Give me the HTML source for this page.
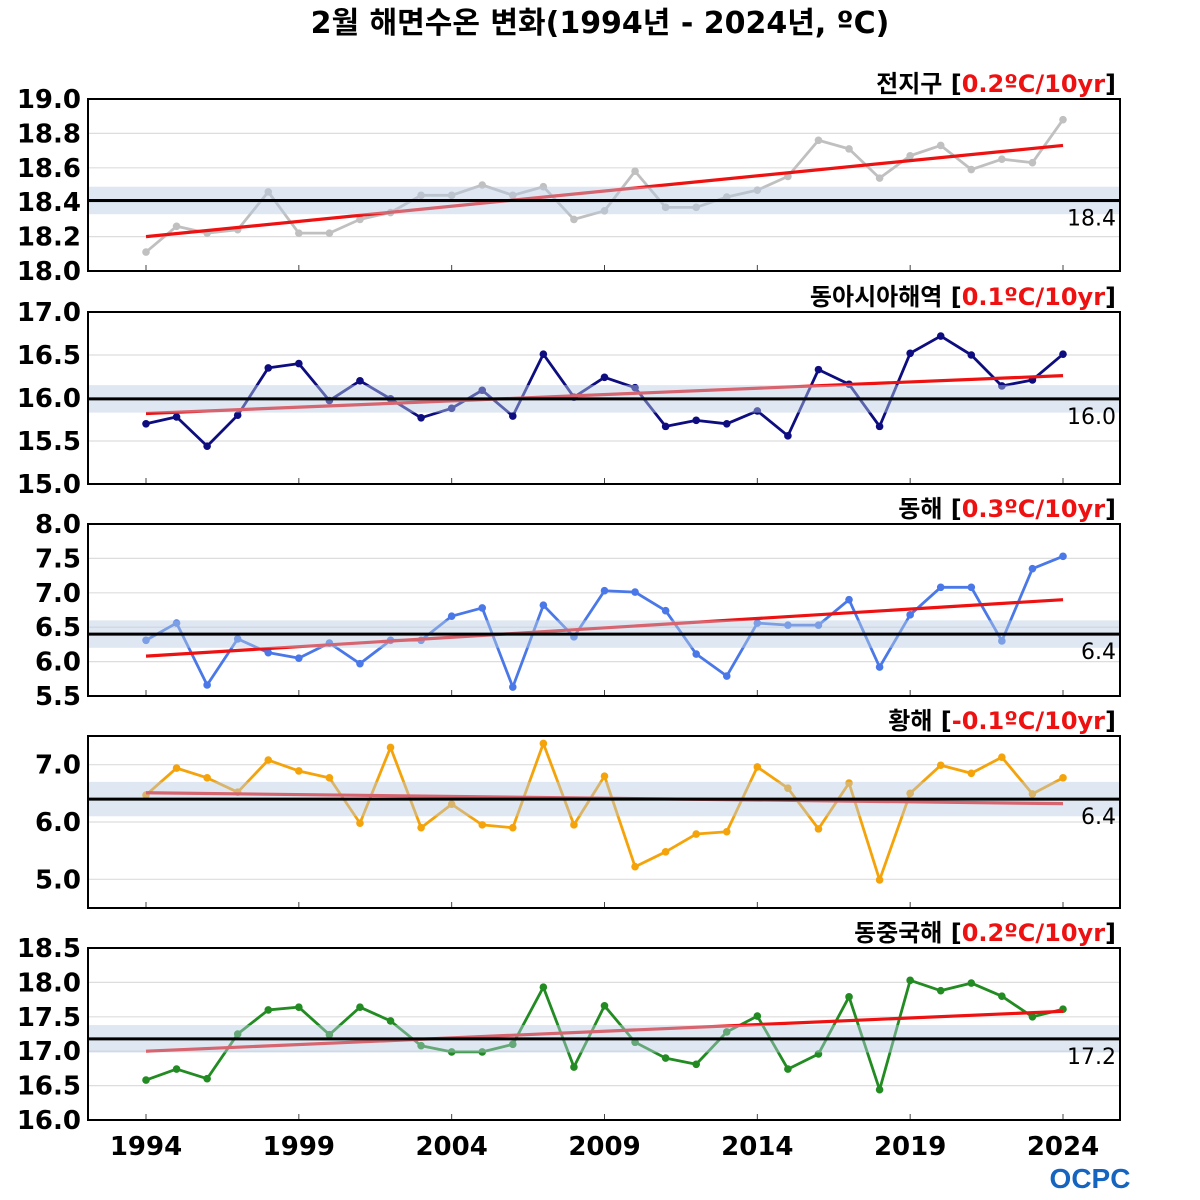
<!DOCTYPE html>
<html><head><meta charset="utf-8">
<style>
html,body{margin:0;padding:0;background:#fff;width:1200px;height:1200px;overflow:hidden}
svg{display:block;font-family:"DejaVu Sans","Noto Sans CJK KR",sans-serif}
</style></head>
<body>
<svg id="chart" width="1200" height="1200" viewBox="0 0 1200 1200" xmlns="http://www.w3.org/2000/svg">
<text x="600" y="33" text-anchor="middle" font-size="30" font-weight="bold">2월 해면수온 변화(1994년 - 2024년, ºC)</text>
<g id="panels"></g>
<text x="1090" y="1188" text-anchor="middle" font-size="28" font-weight="bold" fill="#1565c0" font-family="'Liberation Sans',sans-serif">OCPC</text>
</svg>
<script>
const years = [];
for (let y = 1994; y <= 2024; y++) years.push(y);
const xTickYears = [1994,1999,2004,2009,2014,2019,2024];

const globalVals = [18.11,18.26,18.22,18.24,18.46,18.22,18.22,18.30,18.34,18.44,18.44,18.50,18.44,18.49,18.30,18.35,18.58,18.37,18.37,18.43,18.47,18.55,18.76,18.71,18.54,18.67,18.73,18.59,18.65,18.63,18.88];
const eastAsiaVals = [15.70,15.78,15.44,15.80,16.35,16.40,15.97,16.20,15.99,15.77,15.88,16.09,15.79,16.51,16.01,16.24,16.12,15.67,15.74,15.70,15.85,15.56,16.33,16.16,15.67,16.52,16.72,16.50,16.14,16.21,16.51];
const eastSeaVals = [6.31,6.56,5.66,6.33,6.13,6.05,6.27,5.97,6.31,6.31,6.66,6.78,5.63,6.82,6.36,7.03,7.01,6.74,6.11,5.79,6.56,6.53,6.53,6.90,5.92,6.68,7.08,7.08,6.30,7.35,7.53];
const yellowSeaVals = [6.47,6.94,6.77,6.52,7.08,6.89,6.77,5.98,7.30,5.90,6.31,5.95,5.90,7.37,5.95,6.80,5.22,5.48,5.79,5.83,6.96,6.59,5.88,6.68,4.99,6.50,6.99,6.85,7.13,6.49,6.77];
const ecsVals = [16.58,16.74,16.60,17.25,17.60,17.64,17.24,17.64,17.44,17.08,16.99,16.99,17.10,17.93,16.77,17.66,17.13,16.90,16.81,17.28,17.51,16.74,16.96,17.79,16.44,18.03,17.88,17.99,17.80,17.50,17.61];

const panelNames = ["전지구","동아시아해역","동해","황해","동중국해"];
const panelSlugs = ["global","east-asia","east-sea","yellow-sea","east-china-sea"];
const trendLabels = ["0.2ºC/10yr","0.1ºC/10yr","0.3ºC/10yr","-0.1ºC/10yr","0.2ºC/10yr"];
const means = [18.41,15.99,6.40,6.40,17.18];
const meanLabels = ["18.4","16.0","6.4","6.4","17.2"];
const bandHalf = [0.08,0.16,0.2,0.3,0.2];
const trendStart = [18.20,15.82,6.08,6.51,17.00];
const trendEnd = [18.73,16.26,6.90,6.32,17.58];
const yMin = [18.0,15.0,5.5,4.5,16.0];
const yMax = [19.0,17.0,8.0,7.5,18.5];
const yTicks = [[18.0,18.2,18.4,18.6,18.8,19.0],[15.0,15.5,16.0,16.5,17.0],[5.5,6.0,6.5,7.0,7.5,8.0],[5.0,6.0,7.0],[16.0,16.5,17.0,17.5,18.0,18.5]];
const seriesList = [globalVals,eastAsiaVals,eastSeaVals,yellowSeaVals,ecsVals];
const colors = ["#c0c0c0","#0d0d80","#4a78e8","#f5a30a","#228b22"];

const NS = "http://www.w3.org/2000/svg";
const root = document.getElementById("panels");
const X0 = 88, X1 = 1120;
const panelTops = [99,312,524,736,948];
const PH = 172;
function xs(yr){ return 146 + (yr-1994)*(1063-146)/30; }
function mk(tag, attrs, parent){
  const e = document.createElementNS(NS, tag);
  for (const k in attrs) e.setAttribute(k, attrs[k]);
  parent.appendChild(e); return e;
}

panelNames.forEach((nm, i) => {
  const top = panelTops[i], bot = top + PH;
  const ys = v => bot - (v - yMin[i]) / (yMax[i] - yMin[i]) * PH;
  const g = mk("g", {}, root);
  
  
  yTicks[i].forEach(t => {
    const y = ys(t);
    const gl = mk("line", {x1:X0, x2:X1, y1:y, y2:y, stroke:"#dddddd", "stroke-width":1.2}, g);
    
    
    const tl = mk("text", {x:81, y:y+9, "text-anchor":"end", "font-size":26, "font-weight":"bold"}, g);
    tl.textContent = t.toFixed(1);
    
    
  });
  xTickYears.forEach(yr => {
    const tk = mk("line", {x1:xs(yr), x2:xs(yr), y1:bot-6, y2:bot, stroke:"#444", "stroke-width":1}, g);
    
    
  });
  const vals = seriesList[i];
  const pts = vals.map((v, k) => xs(years[k]) + "," + ys(v)).join(" ");
  const pl = mk("polyline", {points:pts, fill:"none", stroke:colors[i], "stroke-width":2.8, "stroke-linejoin":"round"}, g);
  
  
  vals.forEach((v, k) => {
    const c = mk("circle", {cx:xs(years[k]), cy:ys(v), r:3.8, fill:colors[i]}, g);
    
    
  });
  const tr = mk("line", {x1:xs(1994), y1:ys(trendStart[i]), x2:xs(2024), y2:ys(trendEnd[i]), stroke:"#ee1111", "stroke-width":3.2}, g);
  
  
  const bd = mk("rect", {x:X0, y:ys(means[i]+bandHalf[i]), width:X1-X0, height:ys(means[i]-bandHalf[i]) - ys(means[i]+bandHalf[i]), fill:"#b9cde3", "fill-opacity":0.45}, g);
  
  
  const ml = mk("line", {x1:X0, x2:X1, y1:ys(means[i]), y2:ys(means[i]), stroke:"#000", "stroke-width":3}, g);
  
  
  const mt = mk("text", {x:1116, y:ys(means[i])+25, "text-anchor":"end", "font-size":22}, g);
  mt.textContent = meanLabels[i];
  
  
  const fr = mk("rect", {x:X0, y:top, width:X1-X0, height:PH, fill:"none", stroke:"#000", "stroke-width":2}, g);
  
  
  const tt = mk("text", {x:1116, y:top-7, "text-anchor":"end", "font-size":24, "font-weight":"bold"}, g);
  
  
  const s1 = mk("tspan", {}, tt); s1.textContent = nm + " [";
  const s2 = mk("tspan", {fill:"#ee1111"}, tt); s2.textContent = trendLabels[i];
  const s3 = mk("tspan", {}, tt); s3.textContent = "]";
});
xTickYears.forEach(yr => {
  const t = mk("text", {x:xs(yr), y:1155, "text-anchor":"middle", "font-size":26, "font-weight":"bold"}, root);
  t.textContent = yr;
  
  
});
</script>
</body></html>
